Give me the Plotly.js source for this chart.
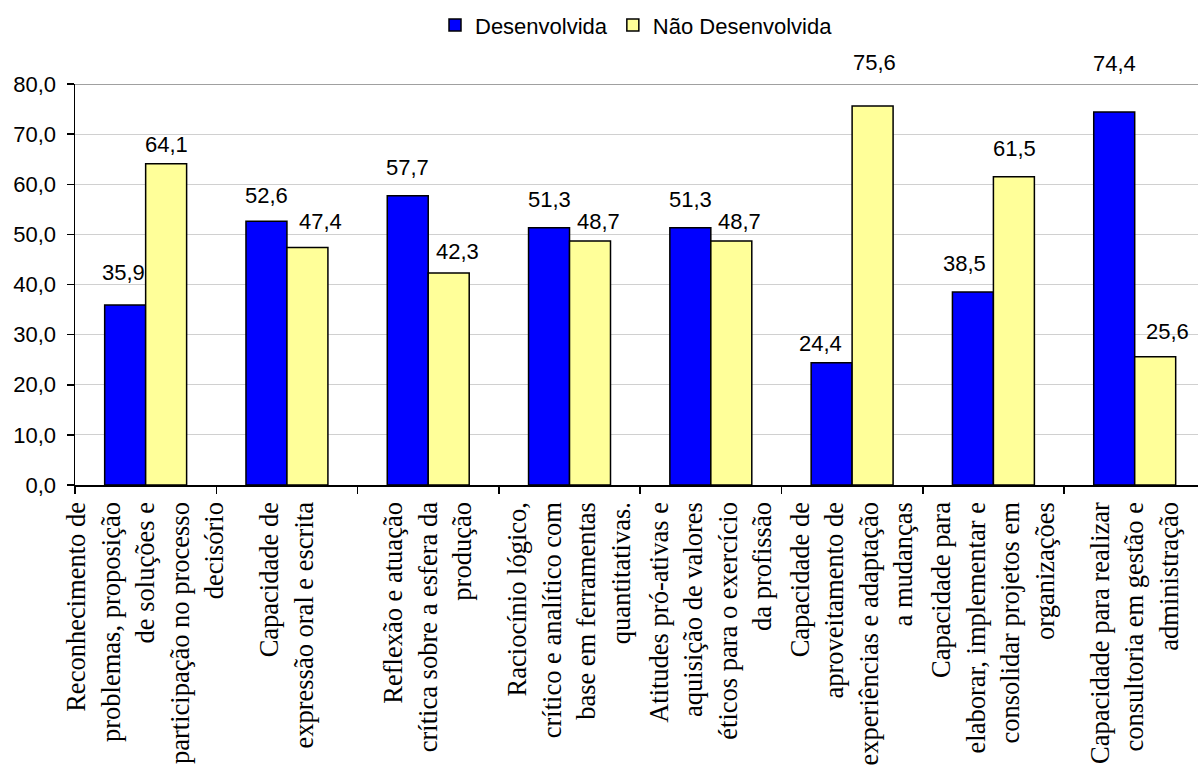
<!DOCTYPE html>
<html>
<head>
<meta charset="utf-8">
<script src="https://cdn.plot.ly/plotly-3.0.1.min.js"></script>
<style>html,body{margin:0;padding:0;background:#fff;}#chart{width:1198px;height:767px;}</style>
</head>
<body>
<div id="chart"></div>
<script>
const categories = [
  "Reconhecimento de<br>problemas, proposição<br>de soluções e<br>participação no processo<br>decisório",
  "Capacidade de<br>expressão oral e escrita",
  "Reflexão e atuação<br>crítica sobre a esfera da<br>produção",
  "Raciocínio lógico,<br>crítico e analítico com<br>base em ferramentas<br>quantitativas.",
  "Atitudes pró-ativas e<br>aquisição de valores<br>éticos para o exercício<br>da profissão",
  "Capacidade de<br>aproveitamento de<br>experiências e adaptação<br>a mudanças",
  "Capacidade para<br>elaborar, implementar e<br>consolidar projetos em<br>organizações",
  "Capacidade para realizar<br>consultoria em gestão e<br>administração"
];
const desenvolvida = [35.9, 52.6, 57.7, 51.3, 51.3, 24.4, 38.5, 74.4];
const naoDesenvolvida = [64.1, 47.4, 42.3, 48.7, 48.7, 75.6, 61.5, 25.6];
const seriesNames = ["Desenvolvida", "Não Desenvolvida"];
const yTicks = [0, 10, 20, 30, 40, 50, 60, 70, 80];

// pixel nudges of each data label (labels were hand-placed in the original)
const liftDesenvolvida = [18, 11, 14, 14, 14, 5, 14, 34];
const liftNaoDesenvolvida = [5, 11, 7, 5, 5, 29, 14, 11];
const nudgeDesenvolvida = [-2, 0, 0, 0, 0, -11, -8, 0];
const nudgeNaoDesenvolvida = [0, 13, 9, 8, 8, 2, 1, 12];

const BARGAP = 0.42;
const fmt = v => v.toFixed(1).replace('.', ',');
const labelFont = {family: "Liberation Sans, Arial, sans-serif", size: 22, color: "#000"};

const traces = [
  {type: 'bar', name: seriesNames[0], x: categories, y: desenvolvida,
   marker: {color: '#0000FF', line: {color: '#000', width: 1.5}}, hoverinfo: 'y'},
  {type: 'bar', name: seriesNames[1], x: categories, y: naoDesenvolvida,
   marker: {color: '#FFFF99', line: {color: '#000', width: 1.5}}, hoverinfo: 'y'}
];

const half = (1 - BARGAP) / 4;
const annotations = [];
desenvolvida.forEach((v, i) => annotations.push({x: i - half, y: v, xref: 'x', yref: 'y', text: fmt(v),
  showarrow: false, yanchor: 'bottom', yshift: liftDesenvolvida[i], xshift: nudgeDesenvolvida[i], font: labelFont}));
naoDesenvolvida.forEach((v, i) => annotations.push({x: i + half, y: v, xref: 'x', yref: 'y', text: fmt(v),
  showarrow: false, yanchor: 'bottom', yshift: liftNaoDesenvolvida[i], xshift: nudgeNaoDesenvolvida[i], font: labelFont}));

const layout = {
  width: 1198, height: 767,
  margin: {l: 75, r: 0, t: 84, b: 282},
  paper_bgcolor: '#fff', plot_bgcolor: '#fff',
  separators: ',.',
  barmode: 'group', bargap: BARGAP, bargroupgap: 0,
  showlegend: true,
  legend: {orientation: 'h', x: 0.5, xanchor: 'center', yref: 'container', y: 0.967, yanchor: 'middle',
    font: {family: "Liberation Sans, Arial, sans-serif", size: 22, color: '#000'}, traceorder: 'normal',
    itemclick: false},
  xaxis: {type: 'category', range: [-0.5, 7.448], tickson: 'boundaries', ticks: 'outside', ticklen: 7,
    tickcolor: '#000', tickwidth: 1.5, showline: true, linecolor: '#000', linewidth: 1.5, showgrid: false,
    tickangle: -90, ticklabelstandoff: 5,
    tickfont: {family: "Liberation Serif, 'Times New Roman', serif", size: 26.5, color: '#000'},
    fixedrange: true},
  yaxis: {range: [0, 80], tickvals: yTicks, tickformat: '.1f', ticks: 'outside', ticklen: 7, tickcolor: '#000',
    tickwidth: 1.5, showline: true, linecolor: '#000', linewidth: 1.5, showgrid: true, gridcolor: '#d0d0d0',
    gridwidth: 1, zeroline: false, ticklabelstandoff: 6,
    tickfont: {family: "Liberation Sans, Arial, sans-serif", size: 22, color: '#000'}, fixedrange: true},
  shapes: [{type: 'line', xref: 'paper', yref: 'y', x0: 0, x1: 1, y0: 80, y1: 80,
    line: {color: '#808080', width: 1.5}}],
  annotations: annotations
};

Plotly.newPlot('chart', traces, layout, {displayModeBar: false, staticPlot: true});
</script>
</body>
</html>
